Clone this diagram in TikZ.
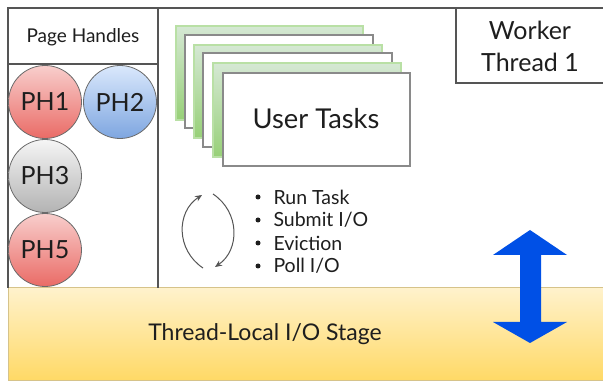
\documentclass[tikz,border=0pt]{standalone}
\usepackage{fontspec}
\setmainfont{Lato}
\usetikzlibrary{arrows.meta}
\definecolor{frameline}{HTML}{555555}
\definecolor{ringline}{HTML}{6A6A6A}
\definecolor{textdark}{HTML}{1E1E1E}
\definecolor{redtop}{HTML}{F8CECC}
\definecolor{redbot}{HTML}{EA6B66}
\definecolor{bluetop}{HTML}{DAE8FC}
\definecolor{bluebot}{HTML}{7EA6E0}
\definecolor{graytop}{HTML}{F5F5F5}
\definecolor{graybot}{HTML}{B3B3B3}
\definecolor{greentop}{HTML}{D5E8D4}
\definecolor{greenbot}{HTML}{97D077}
\definecolor{greenline}{HTML}{B9E0A5}
\definecolor{sheetline}{HTML}{8A8A8A}
\definecolor{stagetop}{HTML}{FFF2CC}
\definecolor{stagebot}{HTML}{FFD966}
\definecolor{stageline}{HTML}{D6C38A}
\definecolor{ioblue}{HTML}{0050E6}
\tikzset{
  handle/.style={circle, draw=ringline, line width=0.8pt, minimum size=73pt,
    inner sep=0pt, text=textdark, font=\fontsize{25}{25}\selectfont},
  redhandle/.style={handle, top color=redtop, bottom color=redbot},
  bluehandle/.style={handle, top color=bluetop, bottom color=bluebot},
  grayhandle/.style={handle, top color=graytop, bottom color=graybot},
  greensheet/.style={draw=greenline, line width=1.2pt, top color=greentop, bottom color=greenbot},
  whitesheet/.style={draw=sheetline, line width=1.6pt, fill=white},
  cyclearrow/.style={draw=frameline, line width=1pt, -{Stealth[length=7pt,width=6pt]}},
  bulletline/.style={anchor=west, text=textdark, font=\fontsize{19.5}{19.5}\selectfont},
}
\begin{document}
\begin{tikzpicture}[x=1pt, y=-1pt]
  \useasboundingbox (0,0) rectangle (603,382);
  \fill[white] (0,0) rectangle (603,382);

  % thread-local I/O stage band
  \draw[stageline, line width=1pt, top color=stagetop, bottom color=stagebot]
    (8,288) rectangle (604,380);
  \node[text=textdark, font=\fontsize{23}{23}\selectfont] (stage) at (265,334) {Thread-Local I/O Stage};

  % outer frame of the worker thread
  \draw[frameline, line width=1.2pt] (8,288) -- (8,8) -- (604,8);

  % page handle column
  \draw[frameline, line width=1.2pt] (8,8) rectangle (158,64);
  \draw[frameline, line width=1.2pt] (158,64) -- (158,288);
  \node[text=textdark, font=\fontsize{19}{19}\selectfont] (phtitle) at (83,37) {Page Handles};
  \node[redhandle]  (ph1) at (45,102)  {PH1};
  \node[bluehandle] (ph2) at (120,102) {PH2};
  \node[grayhandle] (ph3) at (45,176)  {PH3};
  \node[redhandle]  (ph5) at (45,250)  {PH5};

  % worker thread label
  \draw[frameline, line width=1.2pt] (456,8) rectangle (604,83);
  \node[text=textdark, align=center, font=\fontsize{25}{32}\selectfont] (worker) at (530,46) {Worker\\Thread 1};

  % stack of user task sheets
  \draw[greensheet] (176,26) rectangle (363,120);
  \draw[whitesheet] (185,35) rectangle (373,128);
  \draw[greensheet] (194,45) rectangle (382,138);
  \draw[whitesheet] (203,53) rectangle (392,147);
  \draw[greensheet] (213,63) rectangle (401,157);
  \draw[whitesheet] (223,73) rectangle (410,166);
  \node[text=textdark, font=\fontsize{27.3}{27.3}\selectfont] (tasks) at (316,119) {User Tasks};

  % scheduling loop
  \coordinate (loopTL) at (202,195);
  \coordinate (loopBL) at (203,268);
  \coordinate (loopTR) at (213,194);
  \coordinate (loopBR) at (215,267);
  \draw[cyclearrow] (loopBL) .. controls (176,250) and (176,212) .. (loopTL);
  \draw[cyclearrow] (loopTR) .. controls (240,212) and (240,250) .. (loopBR);

  % loop steps
  \foreach \name/\txt/\yy in {runtask/{Run Task}/197, submit/{Submit I/O}/220, evict/{Eviction}/243, poll/{Poll I/O}/266} {
    \fill[textdark] (258,\yy) circle (2.5pt);
    \node[bulletline] (\name) at (270,\yy) {\txt};
  }

  % I/O exchange arrow
  \fill[ioblue] (530,230) -- (567,255) -- (541,255) -- (541,322) -- (567,322)
    -- (530,343) -- (493,322) -- (520,322) -- (520,255) -- (493,255) -- cycle;
\end{tikzpicture}
\end{document}
